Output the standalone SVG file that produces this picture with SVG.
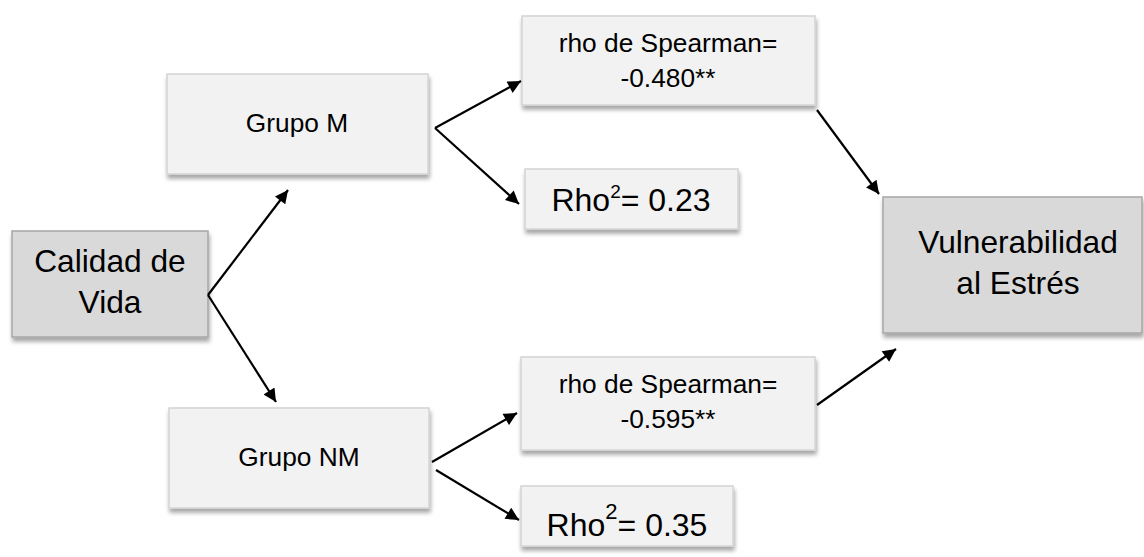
<svg xmlns="http://www.w3.org/2000/svg" width="1144" height="557" viewBox="0 0 1144 557">
<defs>
<filter id="sh" x="-10%" y="-10%" width="125%" height="130%">
<feDropShadow dx="1" dy="4" stdDeviation="2" flood-color="#000" flood-opacity="0.35"/>
</filter>
<marker id="ah" viewBox="0 0 10 10" refX="10" refY="5" markerWidth="17" markerHeight="13" markerUnits="userSpaceOnUse" orient="auto">
<path d="M0,0 L10,5 L0,10 z" fill="#000"/>
</marker>
</defs>
<style>
.dark{fill:#d9d9d9;stroke:#a6a6a6;stroke-width:1.5;filter:url(#sh)}
.light{fill:#f2f2f2;stroke:#d4d4d4;stroke-width:1.5;filter:url(#sh)}
text{font-family:"Liberation Sans",Arial,sans-serif;fill:#000;text-anchor:middle}
.big{font-size:31.7px}
.mid{font-size:26.3px}
.rho{font-size:32px}
.conn line{stroke:#000;stroke-width:2.2;marker-end:url(#ah)}
</style>
<rect width="1144" height="557" fill="#fff"/>
<g id="calidad">
<rect class="dark" x="12" y="231" width="196" height="106"/>
<text class="big" x="110" y="272">Calidad de</text>
<text class="big" x="110" y="313">Vida</text>
</g>
<g id="grupoM">
<rect class="light" x="167" y="74" width="261" height="100"/>
<text class="mid" x="297" y="132">Grupo M</text>
</g>
<g id="grupoNM">
<rect class="light" x="169" y="408" width="260" height="100"/>
<text class="mid" x="299" y="466">Grupo NM</text>
</g>
<g id="rhoM">
<rect class="light" x="522" y="16" width="293" height="89"/>
<text class="mid" x="668" y="52">rho de Spearman=</text>
<text class="mid" x="668" y="87">-0.480**</text>
</g>
<g id="rho2M">
<rect class="light" x="525" y="169" width="213" height="60"/>
<text class="rho" x="631" y="211">Rho<tspan font-size="19" dy="-13">2</tspan><tspan dy="13">= 0.23</tspan></text>
</g>
<g id="rhoNM">
<rect class="light" x="521" y="357" width="294" height="93"/>
<text class="mid" x="668" y="393">rho de Spearman=</text>
<text class="mid" x="668" y="428">-0.595**</text>
</g>
<g id="rho2NM">
<rect class="light" x="521" y="486" width="212" height="60"/>
<text class="rho" x="627" y="536">Rho<tspan font-size="22" dy="-17">2</tspan><tspan dy="17">= 0.35</tspan></text>
</g>
<g id="vulnerabilidad">
<rect class="dark" x="883" y="197" width="259" height="136"/>
<text class="big" x="1018" y="253">Vulnerabilidad</text>
<text class="big" x="1018" y="294">al Estrés</text>
</g>
<g class="conn" id="connectors">
<line x1="208" y1="295" x2="288" y2="190"/>
<line x1="208" y1="295" x2="276" y2="402"/>
<line x1="435" y1="128" x2="521" y2="81"/>
<line x1="435" y1="128" x2="519" y2="204"/>
<line x1="817" y1="110" x2="879" y2="194"/>
<line x1="432" y1="462" x2="517" y2="413"/>
<line x1="436" y1="470" x2="519" y2="520"/>
<line x1="817" y1="405" x2="896" y2="349"/>
</g>
</svg>
